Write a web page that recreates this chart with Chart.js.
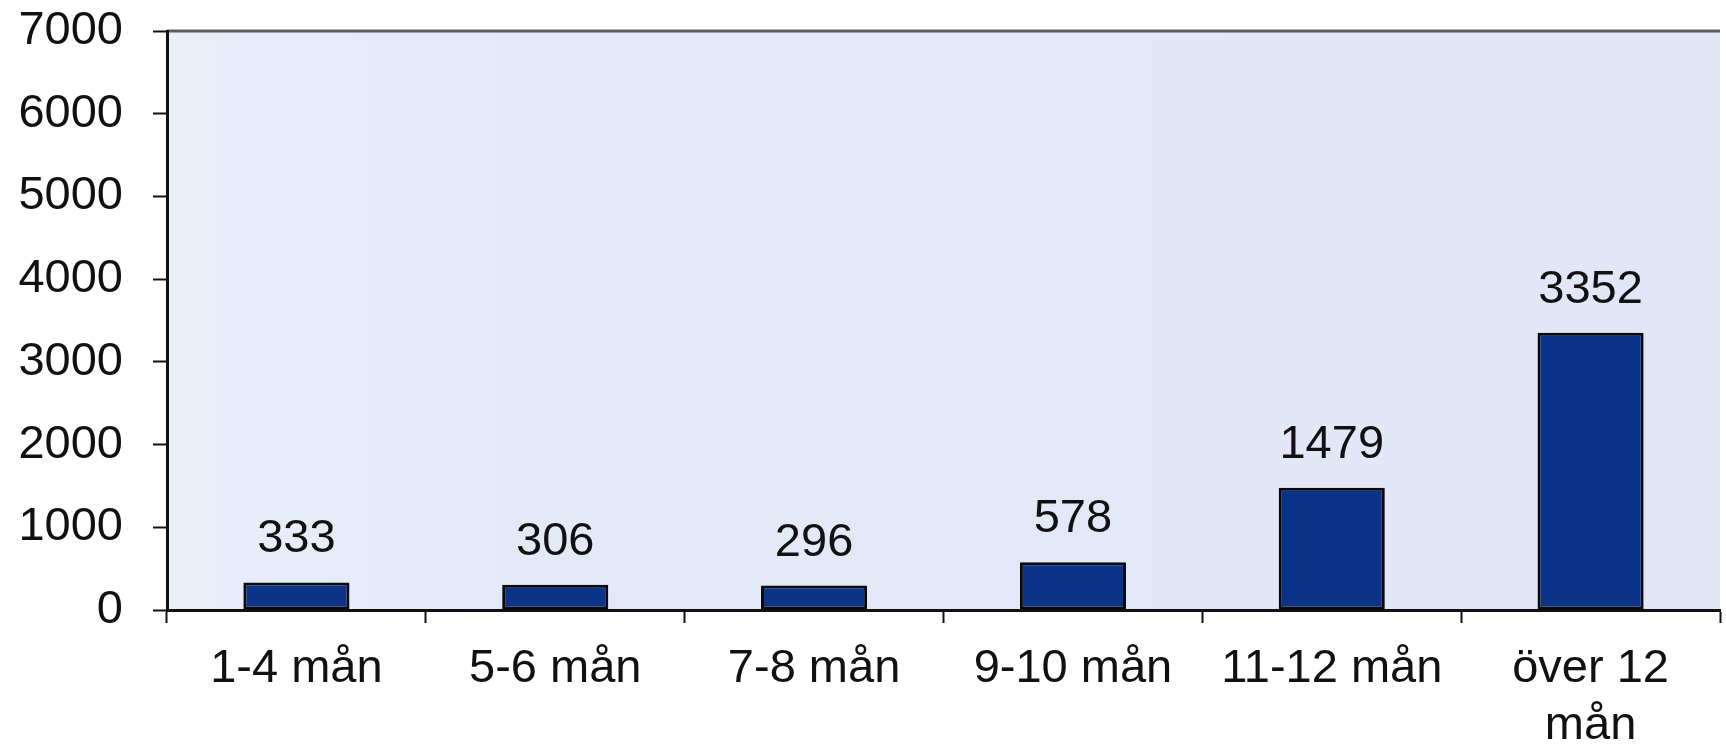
<!DOCTYPE html>
<html>
<head>
<meta charset="utf-8">
<script src="https://cdn.jsdelivr.net/npm/chart.js@4.4.1/dist/chart.umd.min.js"></script>
<style>
  html, body { margin: 0; padding: 0; background: #ffffff; }
  #wrap { width: 1726px; height: 745px; position: relative; }
</style>
</head>
<body>
<div id="wrap"><canvas id="chart"></canvas></div>
<script>
// kategorier och värden
const categories = ['1-4 mån', '5-6 mån', '7-8 mån', '9-10 mån', '11-12 mån', ['över 12', 'mån']];
const values = [333, 306, 296, 578, 1479, 3352];
const yTicks = [0, 1000, 2000, 3000, 4000, 5000, 6000, 7000];

const FONT = '"Liberation Sans", Arial, sans-serif';
const BAR_COLOR = '#0b3388';

// bakgrund i ritytan + grå överkant
const plotBackground = {
  id: 'plotBackground',
  beforeDraw(chart) {
    const { ctx, chartArea: a } = chart;
    ctx.save();
    const g = ctx.createLinearGradient(a.left, 0, a.right, 0);
    g.addColorStop(0, '#e9eef9');
    g.addColorStop(0.25, '#e3e9f7');
    g.addColorStop(1, '#e1e7f6');
    ctx.fillStyle = g;
    ctx.fillRect(a.left, a.top, a.right - a.left, a.bottom - a.top);
    ctx.strokeStyle = '#5e5e5e';
    ctx.lineWidth = 3;
    ctx.beginPath();
    ctx.moveTo(a.left, a.top);
    ctx.lineTo(a.right, a.top);
    ctx.stroke();
    ctx.restore();
  }
};

// värdeetiketter ovanför staplarna
const valueLabels = {
  id: 'valueLabels',
  afterDatasetsDraw(chart) {
    const { ctx } = chart;
    const meta = chart.getDatasetMeta(0);
    ctx.save();
    ctx.font = '47px ' + FONT;
    ctx.fillStyle = '#111111';
    ctx.textAlign = 'center';
    ctx.textBaseline = 'alphabetic';
    meta.data.forEach((bar, i) => {
      ctx.fillText(String(values[i]), bar.x, bar.y - 30);
    });
    ctx.restore();
  }
};

new Chart(document.getElementById('chart'), {
  type: 'bar',
  data: {
    labels: categories,
    datasets: [{
      data: values,
      backgroundColor: BAR_COLOR,
      borderColor: '#0a0a0a',
      borderWidth: 3,
      borderSkipped: false,
      categoryPercentage: 0.41,
      barPercentage: 1
    }]
  },
  options: {
    responsive: true,
    maintainAspectRatio: false,
    animation: false,
    devicePixelRatio: 1,
    layout: { padding: { top: 31, right: 6, left: 0, bottom: 0 } },
    plugins: {
      legend: { display: false },
      tooltip: { enabled: false }
    },
    scales: {
      x: {
        grid: {
          offset: true,
          drawOnChartArea: false,
          drawTicks: true,
          tickLength: 13,
          tickColor: '#111111',
          tickWidth: 2
        },
        border: { display: true, color: '#111111', width: 3 },
        ticks: {
          color: '#111111',
          font: { family: FONT, size: 47, lineHeight: 1.22 },
          padding: 17,
          maxRotation: 0,
          autoSkip: false
        },
        afterFit(scale) { scale.height = 135; }
      },
      y: {
        min: 0,
        max: 7000,
        afterBuildTicks(scale) { scale.ticks = yTicks.map(v => ({ value: v })); },
        grid: {
          drawOnChartArea: false,
          drawTicks: true,
          tickLength: 14,
          tickColor: '#111111',
          tickWidth: 2
        },
        border: { display: true, color: '#111111', width: 3 },
        ticks: {
          color: '#111111',
          font: { family: FONT, size: 47 },
          padding: 30,
          callback: v => String(v)
        },
        afterFit(scale) {
          scale.width = 167;
          scale.paddingTop = 0;
          scale.paddingBottom = 0;
        }
      }
    }
  },
  plugins: [plotBackground, valueLabels]
});
</script>
</body>
</html>
